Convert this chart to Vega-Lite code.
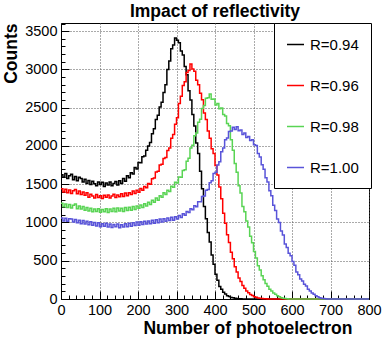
{
  "$schema": "https://vega.github.io/schema/vega-lite/v6.json",
  "width": 308,
  "height": 276,
  "autosize": "none",
  "padding": {"left": 61, "top": 23, "right": 21, "bottom": 48},
  "background": "white",
  "title": {"text": "Impact of reflectivity", "fontSize": 17.5, "font": "Liberation Sans", "fontWeight": "bold", "color": "black", "anchor": "middle", "offset": 2},
  "config": {
    "view": {"stroke": "black", "strokeWidth": 1},
    "font": "Liberation Sans",
    "axis": {"labelFont": "Liberation Sans", "titleFont": "Liberation Sans", "labelColor": "black", "titleColor": "black", "domainColor": "black", "tickColor": "black"}
  },
  "data": {"values": [
    {"x":0,"a":1625,"b":1440,"c":1250,"d":1060},
    {"x":5,"a":1590,"b":1400,"c":1205,"d":1020},
    {"x":10,"a":1640,"b":1435,"c":1240,"d":1055},
    {"x":15,"a":1575,"b":1390,"c":1195,"d":1015},
    {"x":20,"a":1610,"b":1425,"c":1235,"d":1050},
    {"x":25,"a":1630,"b":1380,"c":1190,"d":1045},
    {"x":30,"a":1560,"b":1415,"c":1225,"d":1005},
    {"x":35,"a":1600,"b":1430,"c":1240,"d":1040},
    {"x":40,"a":1545,"b":1375,"c":1180,"d":995},
    {"x":45,"a":1590,"b":1410,"c":1215,"d":1030},
    {"x":50,"a":1575,"b":1365,"c":1175,"d":985},
    {"x":55,"a":1530,"b":1400,"c":1210,"d":1025},
    {"x":60,"a":1565,"b":1355,"c":1160,"d":980},
    {"x":65,"a":1510,"b":1390,"c":1195,"d":1015},
    {"x":70,"a":1550,"b":1330,"c":1150,"d":970},
    {"x":75,"a":1495,"b":1370,"c":1185,"d":1010},
    {"x":80,"a":1540,"b":1345,"c":1140,"d":965},
    {"x":85,"a":1505,"b":1320,"c":1175,"d":1000},
    {"x":90,"a":1480,"b":1365,"c":1145,"d":955},
    {"x":95,"a":1530,"b":1325,"c":1180,"d":995},
    {"x":100,"a":1495,"b":1350,"c":1135,"d":945},
    {"x":105,"a":1525,"b":1315,"c":1170,"d":985},
    {"x":110,"a":1470,"b":1355,"c":1140,"d":950},
    {"x":115,"a":1515,"b":1330,"c":1180,"d":990},
    {"x":120,"a":1490,"b":1360,"c":1130,"d":940},
    {"x":125,"a":1530,"b":1320,"c":1175,"d":980},
    {"x":130,"a":1480,"b":1345,"c":1145,"d":935},
    {"x":135,"a":1510,"b":1370,"c":1185,"d":975},
    {"x":140,"a":1535,"b":1325,"c":1140,"d":945},
    {"x":145,"a":1490,"b":1360,"c":1190,"d":980},
    {"x":150,"a":1545,"b":1335,"c":1150,"d":930},
    {"x":155,"a":1510,"b":1375,"c":1185,"d":970},
    {"x":160,"a":1575,"b":1340,"c":1145,"d":940},
    {"x":165,"a":1540,"b":1385,"c":1195,"d":985},
    {"x":170,"a":1610,"b":1350,"c":1155,"d":945},
    {"x":175,"a":1585,"b":1390,"c":1200,"d":990},
    {"x":180,"a":1650,"b":1365,"c":1160,"d":950},
    {"x":185,"a":1635,"b":1410,"c":1210,"d":995},
    {"x":190,"a":1720,"b":1380,"c":1170,"d":960},
    {"x":195,"a":1700,"b":1420,"c":1215,"d":1005},
    {"x":200,"a":1785,"b":1395,"c":1185,"d":965},
    {"x":205,"a":1780,"b":1445,"c":1230,"d":1010},
    {"x":210,"a":1860,"b":1420,"c":1195,"d":975},
    {"x":215,"a":1870,"b":1470,"c":1245,"d":1015},
    {"x":220,"a":1945,"b":1455,"c":1215,"d":980},
    {"x":225,"a":2000,"b":1510,"c":1265,"d":1020},
    {"x":230,"a":2045,"b":1500,"c":1235,"d":985},
    {"x":235,"a":2160,"b":1570,"c":1290,"d":1030},
    {"x":240,"a":2225,"b":1580,"c":1265,"d":990},
    {"x":245,"a":2345,"b":1660,"c":1320,"d":1035},
    {"x":250,"a":2400,"b":1670,"c":1290,"d":995},
    {"x":255,"a":2510,"b":1750,"c":1350,"d":1045},
    {"x":260,"a":2570,"b":1760,"c":1330,"d":1005},
    {"x":265,"a":2700,"b":1835,"c":1390,"d":1050},
    {"x":270,"a":2800,"b":1850,"c":1365,"d":1015},
    {"x":275,"a":3000,"b":1940,"c":1420,"d":1060},
    {"x":280,"a":3110,"b":1975,"c":1405,"d":1025},
    {"x":285,"a":3270,"b":2100,"c":1475,"d":1070},
    {"x":290,"a":3320,"b":2150,"c":1460,"d":1030},
    {"x":295,"a":3410,"b":2285,"c":1525,"d":1075},
    {"x":300,"a":3380,"b":2370,"c":1515,"d":1045},
    {"x":305,"a":3350,"b":2555,"c":1595,"d":1090},
    {"x":310,"a":3240,"b":2650,"c":1590,"d":1065},
    {"x":315,"a":3190,"b":2790,"c":1680,"d":1115},
    {"x":320,"a":3040,"b":2840,"c":1690,"d":1095},
    {"x":325,"a":2930,"b":2960,"c":1800,"d":1145},
    {"x":330,"a":2720,"b":2985,"c":1840,"d":1130},
    {"x":335,"a":2600,"b":3070,"c":1975,"d":1180},
    {"x":340,"a":2410,"b":3005,"c":2010,"d":1165},
    {"x":345,"a":2260,"b":2975,"c":2135,"d":1220},
    {"x":350,"a":2040,"b":2860,"c":2170,"d":1205},
    {"x":355,"a":1900,"b":2800,"c":2310,"d":1270},
    {"x":360,"a":1670,"b":2690,"c":2350,"d":1270},
    {"x":365,"a":1440,"b":2605,"c":2490,"d":1340},
    {"x":370,"a":1210,"b":2430,"c":2530,"d":1345},
    {"x":375,"a":1050,"b":2345,"c":2625,"d":1420},
    {"x":380,"a":870,"b":2195,"c":2630,"d":1430},
    {"x":385,"a":745,"b":2100,"c":2680,"d":1520},
    {"x":390,"a":575,"b":1965,"c":2610,"d":1545},
    {"x":395,"a":455,"b":1900,"c":2615,"d":1640},
    {"x":400,"a":325,"b":1745,"c":2535,"d":1655},
    {"x":405,"a":245,"b":1620,"c":2555,"d":1750},
    {"x":410,"a":165,"b":1465,"c":2485,"d":1795},
    {"x":415,"a":128,"b":1310,"c":2495,"d":1925},
    {"x":420,"a":88,"b":1120,"c":2410,"d":1975},
    {"x":425,"a":66,"b":990,"c":2390,"d":2080},
    {"x":430,"a":44,"b":840,"c":2295,"d":2105},
    {"x":435,"a":33,"b":738,"c":2265,"d":2190},
    {"x":440,"a":21,"b":612,"c":2080,"d":2195},
    {"x":445,"a":15,"b":526,"c":1945,"d":2245},
    {"x":450,"a":9,"b":422,"c":1770,"d":2215},
    {"x":455,"a":6,"b":354,"c":1655,"d":2250},
    {"x":460,"a":4,"b":276,"c":1480,"d":2200},
    {"x":465,"a":2,"b":229,"c":1385,"d":2210},
    {"x":470,"a":1,"b":177,"c":1210,"d":2150},
    {"x":475,"a":0,"b":142,"c":1140,"d":2170},
    {"x":480,"a":0,"b":103,"c":1020,"d":2110},
    {"x":485,"a":0,"b":81,"c":940,"d":2125},
    {"x":490,"a":0,"b":58,"c":820,"d":2070},
    {"x":495,"a":0,"b":46,"c":735,"d":2080},
    {"x":500,"a":0,"b":31,"c":622,"d":2015},
    {"x":505,"a":0,"b":22,"c":536,"d":2005},
    {"x":510,"a":0,"b":14,"c":434,"d":1900},
    {"x":515,"a":0,"b":10,"c":380,"d":1855},
    {"x":520,"a":0,"b":6,"c":305,"d":1755},
    {"x":525,"a":0,"b":4,"c":251,"d":1695},
    {"x":530,"a":0,"b":2,"c":202,"d":1585},
    {"x":535,"a":0,"b":1,"c":167,"d":1530},
    {"x":540,"a":0,"b":0,"c":128,"d":1415},
    {"x":545,"a":0,"b":0,"c":106,"d":1350},
    {"x":550,"a":0,"b":0,"c":80,"d":1225},
    {"x":555,"a":0,"b":0,"c":63,"d":1155},
    {"x":560,"a":0,"b":0,"c":43,"d":1045},
    {"x":565,"a":0,"b":0,"c":29,"d":1000},
    {"x":570,"a":0,"b":0,"c":17,"d":890},
    {"x":575,"a":0,"b":0,"c":10,"d":835},
    {"x":580,"a":0,"b":0,"c":5,"d":720},
    {"x":585,"a":0,"b":0,"c":2,"d":672},
    {"x":590,"a":0,"b":0,"c":1,"d":598},
    {"x":595,"a":0,"b":0,"c":0,"d":565},
    {"x":600,"a":0,"b":0,"c":0,"d":490},
    {"x":605,"a":0,"b":0,"c":0,"d":440},
    {"x":610,"a":0,"b":0,"c":0,"d":352},
    {"x":615,"a":0,"b":0,"c":0,"d":318},
    {"x":620,"a":0,"b":0,"c":0,"d":262},
    {"x":625,"a":0,"b":0,"c":0,"d":236},
    {"x":630,"a":0,"b":0,"c":0,"d":194},
    {"x":635,"a":0,"b":0,"c":0,"d":170},
    {"x":640,"a":0,"b":0,"c":0,"d":126},
    {"x":645,"a":0,"b":0,"c":0,"d":105},
    {"x":650,"a":0,"b":0,"c":0,"d":78},
    {"x":655,"a":0,"b":0,"c":0,"d":61},
    {"x":660,"a":0,"b":0,"c":0,"d":41},
    {"x":665,"a":0,"b":0,"c":0,"d":29},
    {"x":670,"a":0,"b":0,"c":0,"d":17},
    {"x":675,"a":0,"b":0,"c":0,"d":10},
    {"x":680,"a":0,"b":0,"c":0,"d":5},
    {"x":685,"a":0,"b":0,"c":0,"d":2},
    {"x":690,"a":0,"b":0,"c":0,"d":1},
    {"x":695,"a":0,"b":0,"c":0,"d":0},
    {"x":800,"a":0,"b":0,"c":0,"d":0}
  ]},
  "transform": [{"fold": ["a", "b", "c", "d"], "as": ["s", "n"]}],
  "resolve": {"axis": {"x": "independent", "y": "independent"}},
  "layer": [
    {
      "mark": {"type": "line", "interpolate": "step-after", "strokeWidth": 1.5},
      "encoding": {
        "x": {"field": "x", "type": "quantitative", "scale": {"domain": [0, 800], "nice": false, "zero": false},
          "axis": {"orient": "bottom", "values": [0,100,200,300,400,500,600,700,800], "format": "d", "grid": true, "gridDash": [1,2], "gridColor": "#555", "gridOpacity": 1, "tickSize": -8, "labelFontSize": 14.5, "labelPadding": 12, "labelFlush": false,
            "title": "Number of photoelectron", "titleFontSize": 17.5, "titleFontWeight": "bold", "titleAnchor": "end", "titleAlign": "right", "titleX": 291, "titleY": 34, "titleBaseline": "alphabetic"}},
        "y": {"field": "n", "type": "quantitative", "scale": {"domain": [0, 3607], "nice": false},
          "axis": {"orient": "left", "values": [0,500,1000,1500,2000,2500,3000,3500], "format": "d", "grid": true, "gridDash": [1,2], "gridColor": "#555", "gridOpacity": 1, "tickSize": -8, "labelFontSize": 14.5, "labelPadding": 12, "labelFlush": false,
            "title": "Counts", "titleFontSize": 17.5, "titleFontWeight": "bold", "titleAlign": "right", "titleAngle": -90, "titleX": -50, "titleY": 0, "titleBaseline": "middle"}},
        "color": {"field": "s", "type": "nominal",
          "scale": {"domain": ["a", "b", "c", "d"], "range": ["#000000", "#ff0000", "#59d454", "#5954d9"]},
          "legend": {"orient": "none", "legendX": 213, "legendY": 0, "title": null, "fillColor": "white", "strokeColor": "black", "padding": 12,
            "symbolType": "stroke", "symbolSize": 289, "symbolStrokeWidth": 1.5, "labelFontSize": 15, "labelFont": "Liberation Sans", "labelColor": "black", "labelOffset": 5, "rowPadding": 23,
            "labelExpr": "datum.label == 'a' ? 'R=0.94' : datum.label == 'b' ? 'R=0.96' : datum.label == 'c' ? 'R=0.98' : 'R=1.00'"}}
      }
    },
    {
      "mark": {"type": "line", "opacity": 0},
      "encoding": {
        "x": {"field": "x", "type": "quantitative",
          "axis": {"orient": "bottom", "values": [20,40,60,80,120,140,160,180,220,240,260,280,320,340,360,380,420,440,460,480,520,540,560,580,620,640,660,680,720,740,760,780], "labels": false, "grid": false, "domain": false, "tickSize": -4, "title": null}},
        "y": {"field": "n", "type": "quantitative",
          "axis": {"orient": "left", "values": [100,200,300,400,600,700,800,900,1100,1200,1300,1400,1600,1700,1800,1900,2100,2200,2300,2400,2600,2700,2800,2900,3100,3200,3300,3400,3600], "labels": false, "grid": false, "domain": false, "tickSize": -4, "title": null}}
      }
    }
  ]
}
